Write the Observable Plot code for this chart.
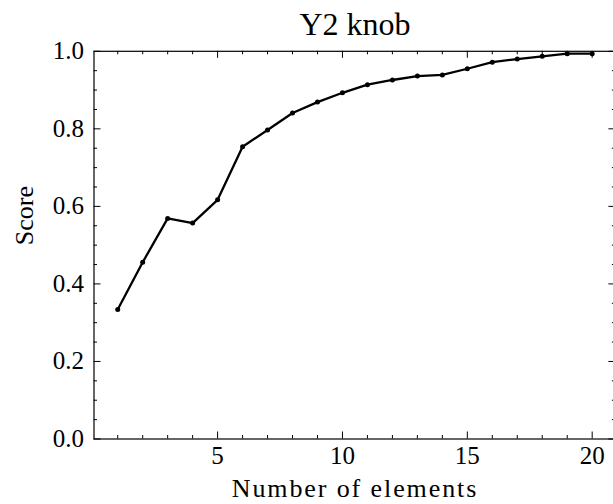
<!DOCTYPE html>
<html>
<head>
<meta charset="utf-8">
<script src="https://cdn.jsdelivr.net/npm/d3@7"></script>
<script src="https://cdn.jsdelivr.net/npm/@observablehq/plot@0.6"></script>
<style>
  html, body { margin: 0; padding: 0; background: #fff; overflow: hidden; }
  #chart svg { max-width: none !important; height: 504px !important; }
</style>
</head>
<body>
<div id="chart"></div>
<script>
// ---- data ----
const elements = [1, 2, 3, 4, 5, 6, 7, 8, 9, 10, 11, 12, 13, 14, 15, 16, 17, 18, 19, 20];
const scores = [0.334, 0.456, 0.569, 0.557, 0.617, 0.754, 0.797, 0.841, 0.869, 0.893,
                0.914, 0.926, 0.936, 0.939, 0.955, 0.972, 0.980, 0.987, 0.994, 0.994];
const xMajorTicks = [5, 10, 15, 20];
const xMinorTicks = [1, 2, 3, 4, 6, 7, 8, 9, 11, 12, 13, 14, 16, 17, 18, 19];
const yMajorTicks = [0, 0.2, 0.4, 0.6, 0.8, 1.0];
const yMinorTicks = [0.05, 0.1, 0.15, 0.25, 0.3, 0.35, 0.45, 0.5, 0.55, 0.65, 0.7, 0.75, 0.85, 0.9, 0.95];
const titleText = "Y2 knob";
const xLabel = "Number of elements";
const yLabel = "Score";

const data = elements.map((x, i) => ({x, y: scores[i]}));

// ---- layout ----
const W = 620, Hsvg = 504;
const mL = 93.5, mR = 4.6, mT = 50.8, mB = 65.5;
const fw = W - mL - mR, fh = Hsvg - mT - mB;
const major = 7, minor = 3.5;
const FONT = "Liberation Serif";

const chart = Plot.plot({
  width: W,
  height: Hsvg,
  marginLeft: mL, marginRight: mR, marginTop: mT, marginBottom: mB,
  style: {fontSize: "25px", color: "black", background: "white"},
  x: {domain: [0.05, 20.95], axis: null},
  y: {domain: [0, 1], axis: null},
  marks: [
    Plot.axisX({ticks: xMajorTicks, tickSize: 0, tickPadding: 7.5, label: null, fontSize: 25, fontFamily: FONT}),
    Plot.axisY({ticks: yMajorTicks, tickFormat: d3.format(".1f"), tickSize: 0, tickPadding: 10, label: null, fontSize: 25, fontFamily: FONT}),
    // inward ticks, bottom & top
    Plot.tickX(xMajorTicks, {x: d => d, insetTop: fh - major, stroke: "black", strokeWidth: 1}),
    Plot.tickX(xMinorTicks, {x: d => d, insetTop: fh - minor, stroke: "black", strokeWidth: 1}),
    Plot.tickX(xMajorTicks, {x: d => d, insetBottom: fh - major, stroke: "black", strokeWidth: 1}),
    Plot.tickX(xMinorTicks, {x: d => d, insetBottom: fh - minor, stroke: "black", strokeWidth: 1}),
    // inward ticks, left & right
    Plot.tickY(yMajorTicks, {y: d => d, insetRight: fw - major, stroke: "black", strokeWidth: 1}),
    Plot.tickY(yMinorTicks, {y: d => d, insetRight: fw - minor, stroke: "black", strokeWidth: 1}),
    Plot.tickY(yMajorTicks, {y: d => d, insetLeft: fw - major, stroke: "black", strokeWidth: 1}),
    Plot.tickY(yMinorTicks, {y: d => d, insetLeft: fw - minor, stroke: "black", strokeWidth: 1}),
    Plot.frame({stroke: "black", strokeWidth: 1.2}),
    Plot.line(data, {x: "x", y: "y", stroke: "black", strokeWidth: 2.3}),
    Plot.dot(data, {x: "x", y: "y", r: 2.5, fill: "black", stroke: "none"}),
    Plot.text([titleText], {frameAnchor: "top", dy: 34.3 - mT, lineAnchor: "bottom", fontSize: 32, fontFamily: FONT, fill: "black"}),
    Plot.text([xLabel], {frameAnchor: "bottom", dy: 58, lineAnchor: "bottom", fontSize: 26, fontFamily: FONT, fill: "black"}),
    Plot.text([yLabel], {frameAnchor: "left", dx: 24 - mL, rotate: -90, lineAnchor: "middle", fontSize: 26, fontFamily: FONT, fill: "black"})
  ]
});

d3.select(chart).selectAll("text").attr("font-family", FONT).style("font-family", FONT);
d3.select(chart).selectAll("text").filter(function() { return this.textContent === xLabel; })
  .attr("letter-spacing", "1.9px");

document.getElementById("chart").appendChild(chart);
</script>
</body>
</html>
